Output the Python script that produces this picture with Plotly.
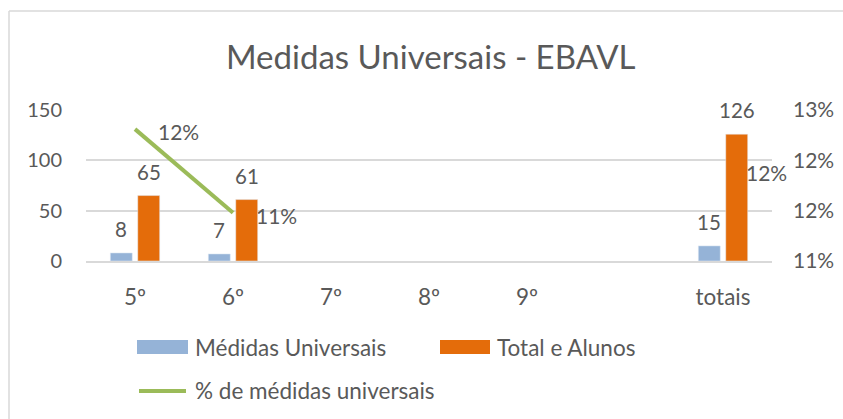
import plotly.graph_objects as go

categories = ["5º", "6º", "7º", "8º", "9º", " ", "totais"]
medidas = [8, 7, None, None, None, None, 15]
total_alunos = [65, 61, None, None, None, None, 126]
pct_medidas = [0.1231, 0.1148, None, None, None, None, 0.1190]
pct_labels = ["12%", "11%", None, None, None, None, "12%"]
left_ticks = [0, 50, 100, 150]
right_tickvals = [0.11, 0.115, 0.12, 0.125]
right_ticktext = ["11%", "12%", "12%", "13%"]

FONT = "Lato"
GREY = "#595959"
BLUE = "#95B3D7"
ORANGE = "#E46C0A"
GREEN = "#9BBB59"

fig = go.Figure()
fig.add_trace(go.Bar(x=categories, y=medidas, name="Médidas Universais",
                     marker_color=BLUE, showlegend=False))
fig.add_trace(go.Bar(x=categories, y=total_alunos, name="Total e Alunos",
                     marker_color=ORANGE, showlegend=False))
fig.add_trace(go.Scatter(x=categories, y=pct_medidas, name="% de médidas universais",
                         mode="lines", line=dict(color=GREEN, width=4),
                         yaxis="y2", showlegend=False, connectgaps=False))

ann = []
for c, v in zip(categories, medidas):
    if v is not None:
        ann.append(dict(x=c, y=v, xref="x", yref="y", text=str(v), showarrow=False,
                        xshift=-14, yshift=24, yanchor="middle",
                        font=dict(family=FONT, size=20.5, color=GREY)))
for c, v in zip(categories, total_alunos):
    if v is not None:
        ann.append(dict(x=c, y=v, xref="x", yref="y", text=str(v), showarrow=False,
                        xshift=14, yshift=24, yanchor="middle",
                        font=dict(family=FONT, size=20.5, color=GREY)))
for c, v, t in zip(categories, pct_medidas, pct_labels):
    if v is not None:
        ann.append(dict(x=c, y=v, xref="x", yref="y2", text=t, showarrow=False,
                        xanchor="left", xshift=21, yshift=-2.5, yanchor="middle",
                        font=dict(family=FONT, size=21, color=GREY)))

# legend (drawn manually, Excel-style wide patches)
W, H = 843, 419
L, R, T, B = 86, 71, 110, 158
pw, ph = W - L - R, H - T - B
def px(x):
    return (x - L) / pw
def py(y):
    return 1 - (y - T) / ph

shapes = [
    dict(type="rect", xref="paper", yref="paper", x0=px(137), x1=px(188), y0=py(354), y1=py(340),
         fillcolor=BLUE, line=dict(width=0)),
    dict(type="rect", xref="paper", yref="paper", x0=px(440), x1=px(490), y0=py(354), y1=py(340),
         fillcolor=ORANGE, line=dict(width=0)),
    dict(type="line", xref="paper", yref="paper", x0=px(139), x1=px(186), y0=py(391), y1=py(391),
         line=dict(color=GREEN, width=4)),
    # chart border
    dict(type="line", xref="paper", yref="paper", x0=px(9), x1=px(843), y0=py(11), y1=py(11),
         line=dict(color="#D9D9D9", width=1.5)),
    dict(type="line", xref="paper", yref="paper", x0=px(9), x1=px(9), y0=py(11), y1=py(419),
         line=dict(color="#D9D9D9", width=1.5)),
]
for txt, x, y in [("Médidas Universais", 193, 347), ("Total e Alunos", 495, 347),
                  ("% de médidas universais", 193, 390)]:
    ann.append(dict(x=px(x), y=py(y), xref="paper", yref="paper", text=txt, showarrow=False,
                    xanchor="left", yanchor="middle",
                    font=dict(family=FONT, size=22.5, color=GREY)))

fig.update_layout(
    width=W, height=H,
    margin=dict(l=L, r=R, t=T, b=B),
    paper_bgcolor="white", plot_bgcolor="white",
    font=dict(family=FONT, size=20, color=GREY),
    title=dict(text="Medidas Universais - EBAVL", x=0.511, xanchor="center",
               y=1 - 57 / H, yanchor="middle",
               font=dict(family=FONT, size=33, color=GREY)),
    barmode="group", bargap=0.44, bargroupgap=0.2,
    showlegend=False,
    xaxis=dict(type="category", categoryorder="array", categoryarray=categories,
               range=[-0.5, len(categories) - 0.5], autorange=False, automargin=False,
               showline=True, linecolor="#D9D9D9", linewidth=1.5, showgrid=False,
               ticks="outside", ticklen=0, ticklabelstandoff=15,
               tickfont=dict(family=FONT, size=22.5, color=GREY), fixedrange=True),
    yaxis=dict(range=[0, 150], autorange=False, automargin=False, tickvals=left_ticks,
               showgrid=True, gridcolor="#D9D9D9",
               gridwidth=1.5, zeroline=False, showline=False, ticks="", ticklabelstandoff=23,
               tickfont=dict(family=FONT, size=20, color=GREY)),
    yaxis2=dict(range=[0.11, 0.125], autorange=False, automargin=False, overlaying="y",
                side="right",
                tickvals=right_tickvals, ticktext=right_ticktext, showgrid=False,
                zeroline=False, showline=False, ticks="", ticklabelstandoff=20,
                tickfont=dict(family=FONT, size=21, color=GREY)),
    annotations=ann, shapes=shapes,
)

fig.write_html("out.html", config={"displayModeBar": False},
               post_script="document.body.style.margin='0';document.body.style.overflow='hidden';")
